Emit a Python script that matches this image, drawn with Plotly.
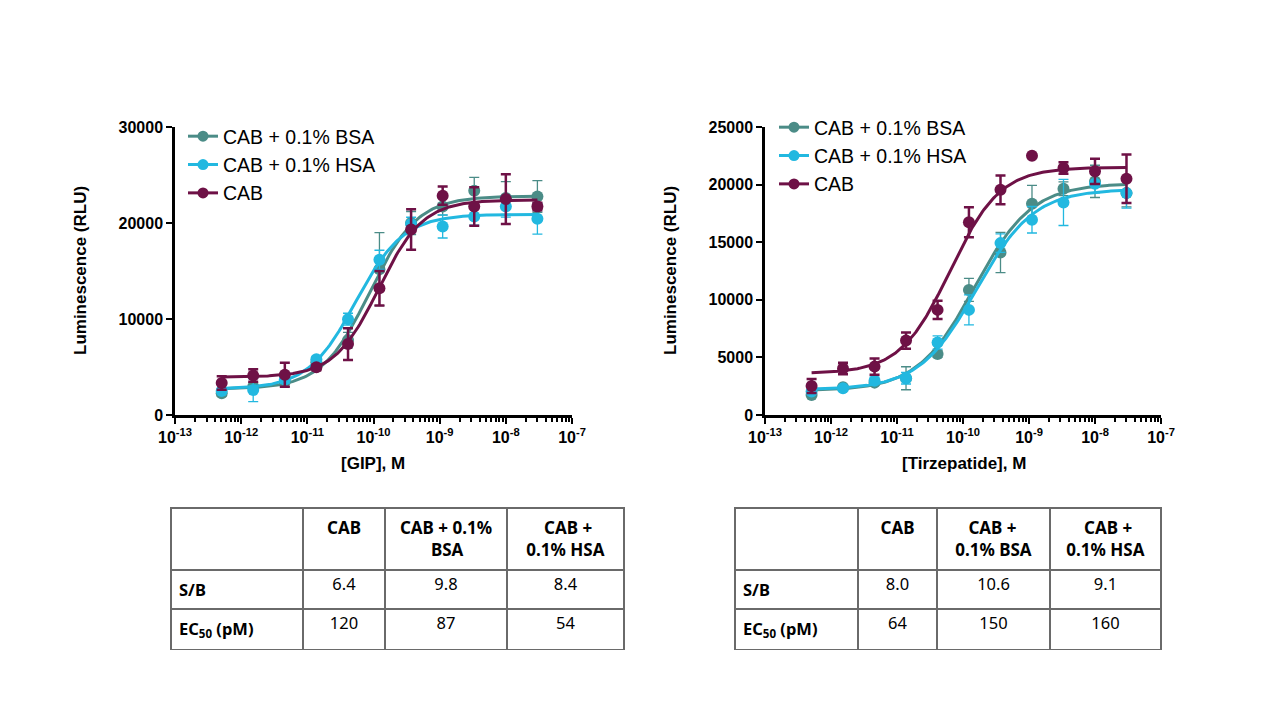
import numpy as np
import plotly.graph_objects as go

# three-fold dilution series (M), highest to lowest
conc = [3.0e-8, 1.0e-8, 3.33e-9, 1.11e-9, 3.70e-10, 1.23e-10,
        4.12e-11, 1.37e-11, 4.57e-12, 1.52e-12, 5.08e-13]

series_names = ['CAB + 0.1% BSA', 'CAB + 0.1% HSA', 'CAB']

# GIP panel: mean and SD per series (same order as conc)
gip_bsa = [22770, 22600, 23360, 21720, 20000, 15190, 7800, 5490, 3480, 2950, 2260]
gip_bsa_sd = [1650, 1700, 1400, 900, 1200, 3800, 800, 300, 500, 400, 300]
gip_hsa = [20440, 21720, 20680, 19640, 19900, 16160, 9980, 5800, 3700, 2600, 2500]
gip_hsa_sd = [1600, 1100, 900, 1200, 700, 1000, 620, 300, 400, 1200, 300]
gip_cab = [21720, 22490, 21720, 22840, 19320, 13210, 7390, 4970, 4200, 4110, 3330]
gip_cab_sd = [400, 2600, 2000, 950, 2100, 1800, 1650, 300, 1250, 650, 700]

# Tirzepatide panel
tzp_bsa = [19260, 20280, 19640, 18340, 14110, 10860, 5300, 3190, 2810, 2400, 1740]
tzp_bsa_sd = [1200, 1400, 600, 1600, 1750, 1000, 300, 1000, 200, 100, 100]
tzp_hsa = [19260, 20080, 18450, 16950, 14920, 9125, 6290, 3190, 2980, 2320, 2030]
tzp_hsa_sd = [1300, 800, 2000, 1150, 800, 1300, 580, 500, 300, 100, 200]
tzp_cab = [20510, 21150, 21440, 22510, 19550, 16740, 9125, 6460, 4200, 4030, 2520]
tzp_cab_sd = [2100, 1100, 500, 0, 1250, 1300, 800, 700, 700, 500, 600]

# 4PL fit parameters per series: bottom, top, EC50 (M), Hill slope
gip_fit = {'bsa': (2700, 22800, 8.7e-11, 1.2),
           'hsa': (2700, 20900, 5.4e-11, 1.2),
           'cab': (3950, 22400, 1.2e-10, 1.3)}
tzp_fit = {'bsa': (2100, 20100, 1.5e-10, 1.0),
           'hsa': (2200, 19600, 1.6e-10, 1.0),
           'cab': (3600, 21500, 6.4e-11, 1.15)}

# summary tables
tbl_rows = ['<b>S/B</b>', '<b>EC<sub>50</sub> (pM)</b>']
gip_cols = ['CAB', 'CAB + 0.1%<br>BSA', 'CAB +<br>0.1% HSA']
tzp_cols = ['CAB', 'CAB +<br>0.1% BSA', 'CAB +<br>0.1% HSA']
gip_sb = ['6.4', '9.8', '8.4']
gip_ec50 = ['120', '87', '54']
tzp_sb = ['8.0', '10.6', '9.1']
tzp_ec50 = ['64', '150', '160']

colors = {'bsa': '#4B8C87', 'hsa': '#22B8E0', 'cab': '#6E1146'}
FONT = 'Liberation Sans'
TFONT = 'Noto Sans'
NB = '\u00a0'

# page body keeps an 8px margin, so the figure is 8px smaller and coordinates shift
OFF = 8
W, H = 1280 - OFF, 720 - OFF


def px(x):
    return (x - OFF) / W


def py(y):
    return 1 - (y - OFF) / H


def four_pl(x, bottom, top, ec50, hill):
    return bottom + (top - bottom) / (1 + (ec50 / x) ** hill)


def center_lines(label, pads):
    # table header lines are left-anchored; pad shorter lines to look centred
    lines = label.split('<br>')
    return '<br>'.join(NB * p + s for p, s in zip(pads, lines))


fig = go.Figure()

panels = [
    ('x', 'y', 'legend', gip_fit,
     {'bsa': (gip_bsa, gip_bsa_sd), 'hsa': (gip_hsa, gip_hsa_sd), 'cab': (gip_cab, gip_cab_sd)}),
    ('x2', 'y2', 'legend2', tzp_fit,
     {'bsa': (tzp_bsa, tzp_bsa_sd), 'hsa': (tzp_hsa, tzp_hsa_sd), 'cab': (tzp_cab, tzp_cab_sd)}),
]

xfit = np.logspace(np.log10(min(conc)), np.log10(max(conc)), 200)

for xa, ya, leg, fits, data in panels:
    for key, name in zip(['bsa', 'hsa', 'cab'], series_names):
        c = colors[key]
        mean, sd = data[key]
        thick = 2.5 if key == 'cab' else 1.3
        fig.add_trace(go.Scatter(
            x=xfit, y=four_pl(xfit, *fits[key]), mode='lines',
            line=dict(color=c, width=3), xaxis=xa, yaxis=ya,
            showlegend=False, hoverinfo='skip'))
        fig.add_trace(go.Scatter(
            x=conc, y=mean, mode='markers', xaxis=xa, yaxis=ya,
            marker=dict(color=c, size=12),
            error_y=dict(type='data', array=sd, color=c, thickness=thick, width=5),
            showlegend=False, name=name))
        # legend entry (line + marker)
        fig.add_trace(go.Scatter(
            x=[None], y=[None], mode='lines+markers', name=name,
            line=dict(color=c, width=3), marker=dict(color=c, size=11),
            legend=leg, xaxis=xa, yaxis=ya))

major = [1e-13, 1e-12, 1e-11, 1e-10, 1e-9, 1e-8, 1e-7]
major_txt = ['10<sup>-%d</sup>' % e for e in range(13, 6, -1)]
minor = [k * 10.0 ** e for e in range(-13, -7) for k in range(2, 10)]

tickfont = dict(family=FONT, size=16, color='black', weight='bold')
xaxis_style = dict(
    type='log', range=[-13, -7], tickvals=major, ticktext=major_txt,
    ticks='outside', ticklen=6, tickwidth=2, tickcolor='black',
    showline=True, linecolor='black', linewidth=2.5, showgrid=False,
    zeroline=False, tickfont=tickfont, automargin=False,
    minor=dict(tickvals=minor, ticks='outside', ticklen=4, tickwidth=1.5,
               tickcolor='black', showgrid=False),
)
yaxis_style = dict(
    ticks='outside', ticklen=6, tickwidth=2, tickcolor='black',
    showline=True, linecolor='black', linewidth=2.5, showgrid=False,
    zeroline=False, tickformat='d', tickfont=tickfont, automargin=False,
)

fig.update_layout(
    width=W, height=H, margin=dict(l=0, r=0, t=0, b=0, autoexpand=False),
    paper_bgcolor='white', plot_bgcolor='white',
    font=dict(family=FONT, color='black'),
    xaxis=dict(domain=[px(175), px(572)], anchor='y', **xaxis_style),
    yaxis=dict(domain=[py(415), py(127)], anchor='x',
               range=[0, 30000], tickvals=[0, 10000, 20000, 30000], **yaxis_style),
    xaxis2=dict(domain=[px(765), px(1161)], anchor='y2', **xaxis_style),
    yaxis2=dict(domain=[py(415), py(127)], anchor='x2',
                range=[0, 25000], tickvals=[0, 5000, 10000, 15000, 20000, 25000], **yaxis_style),
    legend=dict(x=px(183), y=py(117), xanchor='left', yanchor='top',
                font=dict(family=FONT, size=19.5), bgcolor='rgba(0,0,0,0)',
                itemwidth=30, tracegroupgap=0),
    legend2=dict(x=px(774), y=py(108), xanchor='left', yanchor='top',
                 font=dict(family=FONT, size=19.5), bgcolor='rgba(0,0,0,0)',
                 itemwidth=30, tracegroupgap=0),
)

# axis titles
titles = [
    (80, 271, 'Luminescence (RLU)', -90),
    (670, 271, 'Luminescence (RLU)', -90),
    (373, 463, '[GIP], M', 0),
    (964, 463, '[Tirzepatide], M', 0),
]
for x, y, t, ang in titles:
    fig.add_annotation(x=px(x), y=py(y), xref='paper', yref='paper', text='<b>%s</b>' % t,
                       showarrow=False, textangle=ang, xanchor='center', yanchor='middle',
                       font=dict(family=FONT, size=17, color='black'))

# summary tables
tables = [
    ((171, 624), [132, 82, 122, 117], gip_cols, [[0], [0, 7], [4, 0]], gip_sb, gip_ec50),
    ((735, 1161), [123, 79, 113, 111], tzp_cols, [[0], [3, 0], [4, 0]], tzp_sb, tzp_ec50),
]
for (x0, x1), cw, hdr, pads, sb, ec in tables:
    header = [''] + ['<b>%s</b>' % center_lines(h, p) for h, p in zip(hdr, pads)]
    cols = [tbl_rows] + [[s, e] for s, e in zip(sb, ec)]
    fig.add_trace(go.Table(
        domain=dict(x=[px(x0), px(x1)], y=[py(690), py(508)]),
        columnwidth=cw,
        header=dict(values=header, align='center', height=62,
                    line=dict(color='#6a6a6a', width=1.5), fill=dict(color='white'),
                    font=dict(family=TFONT, size=17, color='black')),
        cells=dict(values=cols, align=['left', 'center', 'center', 'center'], height=34,
                   line=dict(color='#6a6a6a', width=1.5), fill=dict(color='white'),
                   font=dict(family=TFONT, size=16.5, color='black')),
    ))

fig.write_html('out.html')
